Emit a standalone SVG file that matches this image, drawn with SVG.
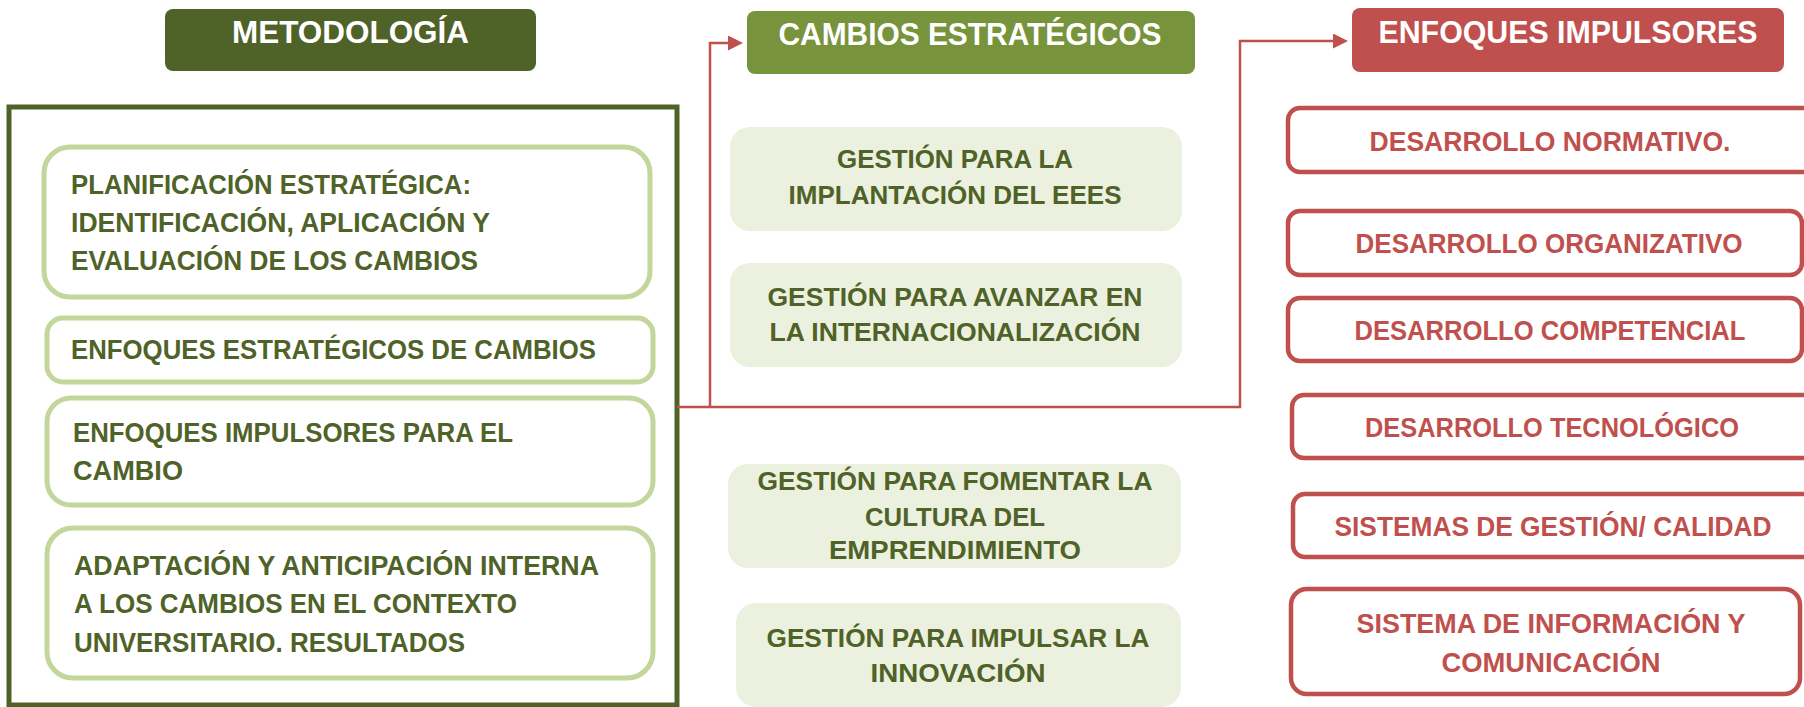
<svg xmlns="http://www.w3.org/2000/svg" width="1804" height="707" viewBox="0 0 1804 707">
<style>
text{font-family:"Liberation Sans",Arial,sans-serif;font-weight:bold;}
.hdr{font-size:31px;fill:#FFFFFF;text-anchor:middle;}
.lt{font-size:27px;fill:#4F6228;}
.mt{font-size:26.5px;fill:#4F6228;text-anchor:middle;}
.rt{font-size:27px;fill:#C0504D;text-anchor:middle;}
.lbox{fill:#FFFFFF;stroke:#C3D69B;stroke-width:5;}
.mbox{fill:#EBF1DE;stroke:none;}
.rbox{fill:#FFFFFF;stroke:#C0504D;stroke-width:4.5;}
.conn{fill:none;stroke:#C0504D;stroke-width:2.5;}
</style>
<defs>
<marker id="arr" markerUnits="userSpaceOnUse" markerWidth="16" markerHeight="16" refX="0" refY="7.5" orient="auto">
<path d="M0,0 L15,7.5 L0,15 z" fill="#C0504D"/>
</marker>
</defs>
<rect x="0" y="0" width="1804" height="707" fill="#FFFFFF"/>

<g id="metodologia-header">
<rect x="165" y="9" width="371" height="62" rx="8" fill="#4F6228"/>
<text class="hdr" x="350.5" y="43" textLength="237" lengthAdjust="spacingAndGlyphs">METODOLOGÍA</text>
</g>

<g id="metodologia-frame">
<rect x="9" y="107" width="668" height="598" fill="none" stroke="#4F6228" stroke-width="5"/>
</g>

<g id="m1">
<rect class="lbox" x="44" y="147" width="606" height="150" rx="26"/>
<text class="lt" x="71" y="194" textLength="400" lengthAdjust="spacingAndGlyphs">PLANIFICACIÓN ESTRATÉGICA:</text>
<text class="lt" x="71" y="232" textLength="419" lengthAdjust="spacingAndGlyphs">IDENTIFICACIÓN, APLICACIÓN Y</text>
<text class="lt" x="71" y="270" textLength="407" lengthAdjust="spacingAndGlyphs">EVALUACIÓN DE LOS CAMBIOS</text>
</g>
<g id="m2">
<rect class="lbox" x="47" y="318" width="606" height="64" rx="16"/>
<text class="lt" x="71" y="359" textLength="525" lengthAdjust="spacingAndGlyphs">ENFOQUES ESTRATÉGICOS DE CAMBIOS</text>
</g>
<g id="m3">
<rect class="lbox" x="47" y="398" width="606" height="107" rx="24"/>
<text class="lt" x="73" y="442" textLength="440" lengthAdjust="spacingAndGlyphs">ENFOQUES IMPULSORES PARA EL</text>
<text class="lt" x="73" y="480" textLength="110" lengthAdjust="spacingAndGlyphs">CAMBIO</text>
</g>
<g id="m4">
<rect class="lbox" x="47" y="528" width="606" height="150" rx="26"/>
<text class="lt" x="74" y="575" textLength="525" lengthAdjust="spacingAndGlyphs">ADAPTACIÓN Y ANTICIPACIÓN INTERNA</text>
<text class="lt" x="74" y="613" textLength="443" lengthAdjust="spacingAndGlyphs">A LOS CAMBIOS EN EL CONTEXTO</text>
<text class="lt" x="74" y="652" textLength="391" lengthAdjust="spacingAndGlyphs">UNIVERSITARIO. RESULTADOS</text>
</g>

<g id="cambios-header">
<rect x="747" y="11" width="448" height="63" rx="8" fill="#77933C"/>
<text class="hdr" x="970" y="45" textLength="383" lengthAdjust="spacingAndGlyphs">CAMBIOS ESTRATÉGICOS</text>
</g>
<g id="c1">
<rect class="mbox" x="730" y="127" width="452" height="104" rx="20"/>
<text class="mt" x="955" y="168" textLength="236" lengthAdjust="spacingAndGlyphs">GESTIÓN PARA LA</text>
<text class="mt" x="955" y="204" textLength="333" lengthAdjust="spacingAndGlyphs">IMPLANTACIÓN DEL EEES</text>
</g>
<g id="c2">
<rect class="mbox" x="730" y="263" width="452" height="104" rx="20"/>
<text class="mt" x="955" y="306" textLength="375" lengthAdjust="spacingAndGlyphs">GESTIÓN PARA AVANZAR EN</text>
<text class="mt" x="955" y="341" textLength="371" lengthAdjust="spacingAndGlyphs">LA INTERNACIONALIZACIÓN</text>
</g>
<g id="c3">
<rect class="mbox" x="728" y="464" width="453" height="104" rx="20"/>
<text class="mt" x="955" y="490" textLength="395" lengthAdjust="spacingAndGlyphs">GESTIÓN PARA FOMENTAR LA</text>
<text class="mt" x="955" y="526" textLength="180" lengthAdjust="spacingAndGlyphs">CULTURA DEL</text>
<text class="mt" x="955" y="559" textLength="252" lengthAdjust="spacingAndGlyphs">EMPRENDIMIENTO</text>
</g>
<g id="c4">
<rect class="mbox" x="736" y="603" width="445" height="104" rx="20"/>
<text class="mt" x="958" y="647" textLength="383" lengthAdjust="spacingAndGlyphs">GESTIÓN PARA IMPULSAR LA</text>
<text class="mt" x="958" y="682" textLength="175" lengthAdjust="spacingAndGlyphs">INNOVACIÓN</text>
</g>

<g id="enfoques-header">
<rect x="1352" y="8" width="432" height="64" rx="8" fill="#C0504D"/>
<text class="hdr" x="1568" y="43" textLength="379" lengthAdjust="spacingAndGlyphs">ENFOQUES IMPULSORES</text>
</g>
<g id="e1">
<rect class="rbox" x="1288" y="108" width="530" height="64" rx="12"/>
<text class="rt" x="1550" y="151" textLength="361" lengthAdjust="spacingAndGlyphs">DESARROLLO NORMATIVO.</text>
</g>
<g id="e2">
<rect class="rbox" x="1288" y="211" width="514" height="64" rx="12"/>
<text class="rt" x="1549" y="253" textLength="387" lengthAdjust="spacingAndGlyphs">DESARROLLO ORGANIZATIVO</text>
</g>
<g id="e3">
<rect class="rbox" x="1288" y="298" width="514" height="63" rx="12"/>
<text class="rt" x="1550" y="340" textLength="391" lengthAdjust="spacingAndGlyphs">DESARROLLO COMPETENCIAL</text>
</g>
<g id="e4">
<rect class="rbox" x="1292" y="395" width="526" height="63" rx="12"/>
<text class="rt" x="1552" y="437" textLength="374" lengthAdjust="spacingAndGlyphs">DESARROLLO TECNOLÓGICO</text>
</g>
<g id="e5">
<rect class="rbox" x="1293" y="494" width="525" height="63" rx="12"/>
<text class="rt" x="1553" y="536" textLength="437" lengthAdjust="spacingAndGlyphs">SISTEMAS DE GESTIÓN/ CALIDAD</text>
</g>
<g id="e6">
<rect class="rbox" x="1291" y="589" width="509" height="105" rx="16"/>
<text class="rt" x="1551" y="633" textLength="389" lengthAdjust="spacingAndGlyphs">SISTEMA DE INFORMACIÓN Y</text>
<text class="rt" x="1551" y="672" textLength="219" lengthAdjust="spacingAndGlyphs">COMUNICACIÓN</text>
</g>

<g id="connectors">
<path class="conn" d="M677,407 H1240 V41 H1333" marker-end="url(#arr)"/>
<path class="conn" d="M710,407 V43 H728" marker-end="url(#arr)"/>
</g>
</svg>
